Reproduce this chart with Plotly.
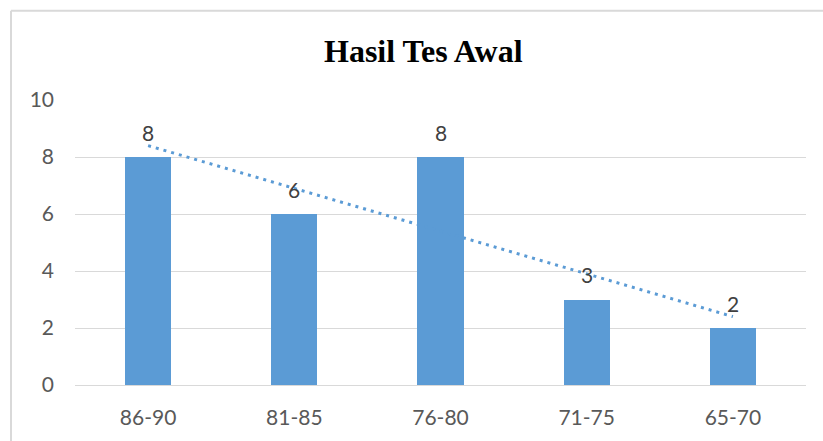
import numpy as np
import plotly.graph_objects as go

# Score ranges and number of students in each
categories = ["86-90", "81-85", "76-80", "71-75", "65-70"]
counts = [8, 6, 8, 3, 2]
y_ticks = [0, 2, 4, 6, 8, 10]

BAR_COLOR = "#5B9BD5"
GRID = "#D9D9D9"
TEXT = "#595959"

# Linear trend fitted to the counts
pos = np.arange(len(categories))
slope, intercept = np.polyfit(pos, counts, 1)
trend = slope * pos + intercept

W, H = 823, 441
L, R, T, B = 75, 17, 100, 54
pw, ph = W - L - R, H - T - B


def px_x(x):
    return (x - L) / pw


def px_y(y):
    return (H - B - y) / ph


fig = go.Figure()
fig.add_trace(go.Bar(
    x=categories, y=counts, marker_color=BAR_COLOR,
    marker_line_width=0, width=0.315, showlegend=False,
))
fig.add_trace(go.Scatter(
    x=categories, y=trend, mode="lines",
    line=dict(color=BAR_COLOR, width=3, dash="3px,5px"),
    showlegend=False,
))

# Value labels above each bar
for c, v in zip(categories, counts):
    fig.add_annotation(
        x=c, y=v, text=str(v), showarrow=False,
        yanchor="middle", yshift=25,
        font=dict(family="Lato", size=21, color="#404040"),
    )

# Chart title
fig.add_annotation(
    x=px_x(423), y=px_y(51), xref="paper", yref="paper",
    text="<b>Hasil Tes Awal</b>", showarrow=False,
    xanchor="center", yanchor="middle",
    font=dict(family="Liberation Serif", size=32, color="#000000"),
)

# Chart-area frame (left and top edges)
fig.add_shape(type="line", xref="paper", yref="paper",
              x0=px_x(11), x1=px_x(11), y0=px_y(10), y1=px_y(445),
              line=dict(color=GRID, width=2))
fig.add_shape(type="line", xref="paper", yref="paper",
              x0=px_x(11), x1=px_x(830), y0=px_y(10), y1=px_y(10),
              line=dict(color=GRID, width=2))

fig.update_layout(
    width=W, height=H,
    margin=dict(l=L, r=R, t=T, b=B),
    paper_bgcolor="white", plot_bgcolor="white",
    bargap=0,
    font=dict(family="Lato", size=21, color=TEXT),
)
fig.update_xaxes(
    type="category", showgrid=False, showline=False, zeroline=False,
    ticks="", ticklabelstandoff=18,
    tickfont=dict(family="Lato", size=21, color=TEXT),
)
fig.update_yaxes(
    range=[0, 10], tickvals=y_ticks, showgrid=True, gridcolor=GRID,
    gridwidth=1, zeroline=True, zerolinecolor=GRID, zerolinewidth=1,
    showline=False, ticks="", ticklabelstandoff=20,
    tickfont=dict(family="Lato", size=21, color=TEXT),
)

fig.write_html("out.html")
